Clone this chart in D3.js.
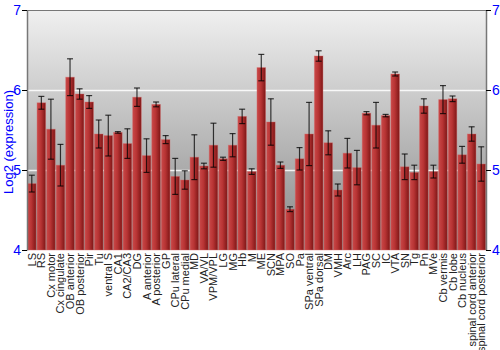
<!DOCTYPE html>
<html>
<head>
<meta charset="utf-8">
<script src="https://cdn.jsdelivr.net/npm/d3@7"></script>
<style>
  body { margin: 0; background: #fff; }
  svg { display: block; }
</style>
</head>
<body>
<div id="chart"></div>
<script>
(function(){
    var width = 500;
    var height = 350;

    var margin = { top: 10, bottom: 100, left: 27, right: 14 };

    var regions = ["LS", "RS", "Cx motor", "Cx cingulate", "OB anterior", "OB posterior", "Pir", "Tu",
        "ventral S", "CA1", "CA2/CA3", "DG", "A anterior", "A posterior", "GP", "CPu lateral",
        "CPu medial", "MD", "VA/VL", "VPM/VPL", "LG", "MG", "Hb", "M", "ME", "SCN", "MPA", "SO",
        "Pa", "SPa ventral", "SPa dorsal", "DM", "VMH", "Arc", "LH", "PAG", "SC", "IC", "VTA",
        "SN", "Tg", "Pn", "MVe", "Cb vermis", "Cb lobe", "Cb nucleus", "spinal cord anterior",
        "spinal cord posterior"];

    var expression = [4.83, 5.84, 5.51, 5.06, 6.16, 5.95, 5.85, 5.45,
        5.43, 5.47, 5.33, 5.91, 5.18, 5.82, 5.38, 4.92,
        4.875, 5.16, 5.05, 5.31, 5.14, 5.31, 5.67, 4.98, 6.28, 5.6, 5.06, 4.51,
        5.14, 5.45, 6.425, 5.34, 4.75, 5.21, 5.03, 5.71, 5.56, 5.68, 6.2,
        5.04, 4.97, 5.8, 4.98, 5.88, 5.89, 5.19, 5.45,
        5.075];

    var errors = [0.105, 0.08, 0.375, 0.26, 0.23, 0.065, 0.08, 0.175,
        0.255, 0.01, 0.185, 0.115, 0.21, 0.03, 0.05, 0.225,
        0.115, 0.28, 0.035, 0.275, 0.02, 0.145, 0.09, 0.035, 0.165, 0.29, 0.04, 0.03,
        0.14, 0.395, 0.065, 0.15, 0.075, 0.185, 0.215, 0.02, 0.285, 0.015, 0.025,
        0.16, 0.09, 0.09, 0.08, 0.175, 0.035, 0.105, 0.09,
        0.215];

    var yTicks = [4, 5, 6, 7];

    var data = regions.map(function(r, i){
        return { region: r, value: expression[i], err: errors[i] };
    });

    var svg = d3.select("#chart")
        .append("svg")
            .attr("width", width)
            .attr("height", height)
            .style("font-family", '"Liberation Sans", Arial, sans-serif');

    var defs = svg.append("defs");

    var bg = defs.append("linearGradient")
        .attr("id", "bg_grad")
        .attr("x1", 0).attr("y1", 0).attr("x2", 0).attr("y2", 1);
    bg.append("stop").attr("offset", "0%").attr("stop-color", "#f0f0f0");
    bg.append("stop").attr("offset", "100%").attr("stop-color", "#888888");

    var barGrad = defs.append("linearGradient")
        .attr("id", "bar_grad")
        .attr("x1", 0).attr("y1", 0).attr("x2", 1).attr("y2", 0);
    barGrad.append("stop").attr("offset", "0%").attr("stop-color", "#c94848");
    barGrad.append("stop").attr("offset", "45%").attr("stop-color", "#b83434");
    barGrad.append("stop").attr("offset", "100%").attr("stop-color", "#7e1616");

    var innerW = width - margin.left - margin.right;
    var innerH = height - margin.top - margin.bottom;

    var g = svg.append("g")
        .attr("transform", "translate(" + margin.left + "," + margin.top + ")");

    var xScale = d3.scaleBand()
        .domain(regions)
        .range([0, innerW])
        .paddingInner(0.1)
        .paddingOuter(0.05);

    var yScale = d3.scaleLinear()
        .domain([4, 7])
        .range([innerH, 0]);

    // background
    g.append("rect")
        .attr("width", innerW)
        .attr("height", innerH)
        .attr("fill", "url(#bg_grad)");

    // grid lines
    g.selectAll(".grid")
        .data(yTicks.filter(function(t){ return t > 4 && t < 7; }))
        .enter()
        .append("line")
        .attr("class", "grid")
        .attr("x1", 0)
        .attr("x2", innerW)
        .attr("y1", function(d){ return yScale(d) + 0.5; })
        .attr("y2", function(d){ return yScale(d) + 0.5; })
        .attr("stroke", "#ffffff")
        .attr("stroke-opacity", 0.85)
        .attr("stroke-width", 1.5);

    // bars
    g.selectAll(".bar")
        .data(data)
        .enter()
        .append("rect")
        .attr("class", "bar")
        .attr("x", function(d){ return xScale(d.region); })
        .attr("width", xScale.bandwidth())
        .attr("y", function(d){ return yScale(d.value); })
        .attr("height", function(d){ return innerH - yScale(d.value); })
        .attr("fill", "url(#bar_grad)")
        .attr("stroke", "#d66a6a")
        .attr("stroke-opacity", 0.5)
        .attr("stroke-width", 0.8);

    // error bars
    var eb = g.selectAll(".err")
        .data(data)
        .enter()
        .append("g")
        .attr("class", "err")
        .attr("transform", function(d){
            return "translate(" + (xScale(d.region) + xScale.bandwidth()/2) + ",0)";
        })
        .attr("stroke", "#000")
        .attr("stroke-opacity", 0.75)
        .attr("stroke-width", 1.2);

    eb.append("line")
        .attr("y1", function(d){ return yScale(d.value + d.err); })
        .attr("y2", function(d){ return yScale(d.value - d.err); });
    eb.append("line")
        .attr("x1", -3).attr("x2", 3)
        .attr("y1", function(d){ return yScale(d.value + d.err); })
        .attr("y2", function(d){ return yScale(d.value + d.err); });
    eb.append("line")
        .attr("x1", -3).attr("x2", 3)
        .attr("y1", function(d){ return yScale(d.value - d.err); })
        .attr("y2", function(d){ return yScale(d.value - d.err); });

    // top frame line
    g.append("line")
        .attr("x1", 0).attr("x2", innerW)
        .attr("y1", 0.5).attr("y2", 0.5)
        .attr("stroke", "#777");

    var yAxisL = d3.axisLeft(yScale).tickValues(yTicks).tickFormat(d3.format("d")).tickSize(5).tickSizeOuter(0);
    var yAxisR = d3.axisRight(yScale).tickValues(yTicks).tickFormat(d3.format("d")).tickSize(5).tickSizeOuter(0);

    var la = g.append("g").attr("class", "y axis").call(yAxisL);
    var ra = g.append("g").attr("class", "y axis")
        .attr("transform", "translate(" + innerW + ",0)")
        .call(yAxisR);

    [la, ra].forEach(function(a){
        a.select(".domain").attr("stroke", "#777").attr("stroke-width", 1.5);
        a.selectAll(".tick line").attr("stroke", "#000");
        a.selectAll(".tick text")
            .attr("fill", "#0000ff")
            .attr("font-size", "14px")
            .attr("font-family", '"Liberation Sans", Arial, sans-serif');
    });
    la.selectAll(".tick text").attr("x", -6);
    ra.selectAll(".tick text").attr("x", 6);

    // category labels
    g.selectAll(".xlabel")
        .data(data)
        .enter()
        .append("text")
        .attr("class", "xlabel")
        .attr("transform", function(d){
            return "translate(" + (xScale(d.region) + xScale.bandwidth()/2 + 4) + "," + (innerH + 3) + ") rotate(-90)";
        })
        .attr("text-anchor", "end")
        .attr("font-size", "11px")
        .attr("fill", "#222")
        .text(function(d){ return d.region; });

    // y title
    svg.append("text")
        .attr("transform", "translate(13,142) rotate(-90)")
        .attr("text-anchor", "middle")
        .attr("font-size", "13px")
        .attr("fill", "#0000ff")
        .text("Log2 (expression)");
})();
</script>
</body>
</html>
